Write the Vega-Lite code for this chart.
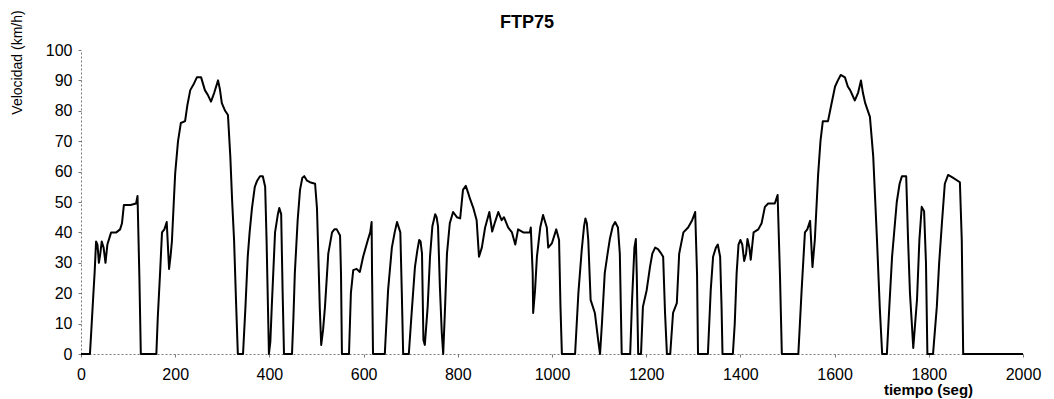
{
  "$schema": "https://vega.github.io/schema/vega-lite/v6.json",
  "width": 942,
  "height": 304,
  "autosize": {"type": "none"},
  "padding": {"left": 81, "top": 50, "right": 31, "bottom": 45},
  "background": "white",
  "title": {"text": "FTP75", "font": "Liberation Sans", "fontSize": 18, "fontWeight": "bold", "color": "black", "anchor": "middle", "dx": -25, "offset": 0, "dy": 22},
  "config": {"view": {"stroke": null}},
  "data": {"values": [
    {"t":0,"v":0},{"t":19,"v":0},{"t":22,"v":8},{"t":26,"v":19},{"t":29,"v":27},{"t":32,"v":37},{"t":35,"v":36},{"t":38,"v":30},{"t":41,"v":33},{"t":44,"v":37},{"t":48,"v":35},{"t":52,"v":30},{"t":56,"v":36},{"t":64,"v":40},{"t":75,"v":40},{"t":83,"v":41},{"t":87,"v":43},{"t":91,"v":49},{"t":105,"v":49},{"t":117,"v":49.5},{"t":120,"v":52},{"t":124,"v":25},{"t":127,"v":0},
    {"t":160,"v":0},{"t":163,"v":12},{"t":168,"v":27},{"t":172,"v":40},{"t":177,"v":41},{"t":182,"v":43.4},{"t":185,"v":34},{"t":187,"v":28},{"t":190,"v":32},{"t":193,"v":37},{"t":197,"v":50},{"t":200,"v":59.5},{"t":206,"v":70},{"t":212,"v":76},{"t":221,"v":76.6},{"t":226,"v":82},{"t":232,"v":86.8},{"t":240,"v":89},{"t":246,"v":91},{"t":255,"v":91},{"t":263,"v":86.8},{"t":270,"v":85},{"t":276,"v":83},{"t":283,"v":86},{"t":291,"v":90},{"t":295,"v":87},{"t":299,"v":82.5},{"t":306,"v":80},{"t":312,"v":78.6},{"t":317,"v":65},{"t":321,"v":50},{"t":325,"v":37.5},{"t":329,"v":18},{"t":333,"v":0},
    {"t":344,"v":0},{"t":349,"v":15},{"t":354,"v":32},{"t":358,"v":40},{"t":363,"v":48},{"t":369,"v":55},{"t":374,"v":57},{"t":380,"v":58.5},{"t":386,"v":58.5},{"t":391,"v":55},{"t":394,"v":37.5},{"t":397,"v":15},{"t":399,"v":0},
    {"t":402,"v":4},{"t":405,"v":15.5},{"t":412,"v":40},{"t":418,"v":46},{"t":421,"v":48},{"t":425,"v":46},{"t":428,"v":21},{"t":431,"v":0},
    {"t":448,"v":0},{"t":451,"v":12},{"t":454,"v":26.6},{"t":460,"v":44},{"t":465,"v":54},{"t":470,"v":58},{"t":474,"v":58.5},{"t":480,"v":57},{"t":486,"v":56.5},{"t":497,"v":56},{"t":501,"v":48},{"t":504,"v":32},{"t":507,"v":15},{"t":510,"v":3},{"t":514,"v":8},{"t":518,"v":15.5},{"t":525,"v":33},{"t":533,"v":40},{"t":538,"v":41},{"t":543,"v":41},{"t":550,"v":39},{"t":552,"v":26.6},{"t":554,"v":0},
    {"t":569,"v":0},{"t":573,"v":20},{"t":578,"v":27.6},{"t":585,"v":28},{"t":592,"v":27},{"t":599,"v":32},{"t":609,"v":37.5},{"t":614,"v":40},{"t":617,"v":43.4},{"t":618,"v":26},{"t":620,"v":0},
    {"t":645,"v":0},{"t":652,"v":21},{"t":660,"v":35},{"t":666,"v":40},{"t":671,"v":43.4},{"t":678,"v":40},{"t":681,"v":21},{"t":684,"v":0},
    {"t":696,"v":0},{"t":702,"v":13.5},{"t":709,"v":28.6},{"t":714,"v":34},{"t":718,"v":37.5},{"t":721,"v":37},{"t":724,"v":33},{"t":727,"v":4.6},{"t":730,"v":3},{"t":736,"v":15.5},{"t":741,"v":32},{"t":746,"v":42},{"t":752,"v":46},{"t":755,"v":45},{"t":758,"v":42},{"t":762,"v":22},{"t":766,"v":7},{"t":769,"v":0},
    {"t":773,"v":15.5},{"t":777,"v":33},{"t":783,"v":43},{"t":790,"v":46.7},{"t":798,"v":45},{"t":805,"v":44.6},{"t":811,"v":54},{"t":817,"v":55.3},{"t":822,"v":53},{"t":826,"v":51},{"t":833,"v":48},{"t":840,"v":44},{"t":845,"v":32},{"t":851,"v":35},{"t":858,"v":41.6},{"t":867,"v":46.7},{"t":873,"v":40.3},{"t":879,"v":43.4},{"t":886,"v":46.7},{"t":893,"v":44},{"t":898,"v":45},{"t":907,"v":41.6},{"t":915,"v":40},{"t":922,"v":36},{"t":928,"v":41},{"t":939,"v":40},{"t":953,"v":40},{"t":955,"v":41.6},{"t":959,"v":26.6},{"t":960,"v":13.5},{"t":964,"v":21},{"t":968,"v":32},{"t":975,"v":41.6},{"t":981,"v":45.7},{"t":989,"v":41.6},{"t":992,"v":35},{"t":1000,"v":36.5},{"t":1009,"v":41},{"t":1015,"v":37.5},{"t":1018,"v":15.5},{"t":1021,"v":0},
    {"t":1049,"v":0},{"t":1056,"v":20},{"t":1063,"v":34},{"t":1068,"v":42},{"t":1071,"v":44.6},{"t":1074,"v":43},{"t":1077,"v":37.5},{"t":1082,"v":17.8},{"t":1091,"v":13.5},{"t":1098,"v":4.6},{"t":1102,"v":0},{"t":1106,"v":10},{"t":1112,"v":26.6},{"t":1118,"v":33},{"t":1123,"v":38},{"t":1129,"v":42},{"t":1134,"v":43.4},{"t":1140,"v":41.6},{"t":1144,"v":33},{"t":1148,"v":0},
    {"t":1166,"v":0},{"t":1170,"v":17.8},{"t":1175,"v":35},{"t":1178,"v":37.8},{"t":1180,"v":26},{"t":1183,"v":0},
    {"t":1189,"v":0},{"t":1193,"v":15.5},{"t":1201,"v":21},{"t":1208,"v":28.6},{"t":1213,"v":33},{"t":1219,"v":35},{"t":1225,"v":34.5},{"t":1232,"v":33},{"t":1236,"v":32},{"t":1240,"v":13.5},{"t":1244,"v":0},
    {"t":1251,"v":0},{"t":1257,"v":13.5},{"t":1265,"v":16.7},{"t":1270,"v":33},{"t":1279,"v":40},{"t":1289,"v":41.6},{"t":1297,"v":43.8},{"t":1304,"v":46.7},{"t":1308,"v":26},{"t":1310,"v":0},
    {"t":1331,"v":0},{"t":1337,"v":21},{"t":1342,"v":32},{"t":1348,"v":35},{"t":1352,"v":36},{"t":1357,"v":32},{"t":1360,"v":15.5},{"t":1362,"v":0},
    {"t":1384,"v":0},{"t":1388,"v":10},{"t":1392,"v":26.6},{"t":1396,"v":36},{"t":1400,"v":37.5},{"t":1404,"v":36},{"t":1408,"v":30.6},{"t":1412,"v":33},{"t":1415,"v":37.8},{"t":1419,"v":35},{"t":1422,"v":31},{"t":1428,"v":40},{"t":1438,"v":41},{"t":1445,"v":43},{"t":1452,"v":48.4},{"t":1459,"v":49.5},{"t":1473,"v":49.5},{"t":1479,"v":52.3},{"t":1484,"v":26},{"t":1488,"v":0},
    {"t":1523,"v":0},{"t":1530,"v":21},{"t":1537,"v":40},{"t":1542,"v":41},{"t":1548,"v":43.8},{"t":1553,"v":28.6},{"t":1558,"v":37.5},{"t":1565,"v":59},{"t":1570,"v":70},{"t":1575,"v":76.6},{"t":1586,"v":76.6},{"t":1593,"v":82},{"t":1601,"v":88},{"t":1607,"v":90},{"t":1613,"v":91.8},{"t":1622,"v":91},{"t":1628,"v":88},{"t":1633,"v":86.8},{"t":1643,"v":83.4},{"t":1650,"v":86},{"t":1656,"v":90},{"t":1660,"v":86},{"t":1665,"v":82.5},{"t":1675,"v":78},{"t":1682,"v":65},{"t":1690,"v":37.5},{"t":1696,"v":15},{"t":1701,"v":0},
    {"t":1711,"v":0},{"t":1716,"v":15},{"t":1722,"v":32},{"t":1732,"v":50},{"t":1738,"v":56},{"t":1743,"v":58.5},{"t":1752,"v":58.5},{"t":1756,"v":37.5},{"t":1760,"v":20},{"t":1764,"v":10},{"t":1767,"v":2},{"t":1775,"v":18},{"t":1780,"v":37.5},{"t":1785,"v":48.4},{"t":1790,"v":47},{"t":1794,"v":30},{"t":1797,"v":0},
    {"t":1809,"v":0},{"t":1817,"v":15.5},{"t":1822,"v":30},{"t":1828,"v":43.4},{"t":1834,"v":56},{"t":1841,"v":58.9},{"t":1851,"v":58},{"t":1866,"v":56.5},{"t":1870,"v":37.5},{"t":1873,"v":0},{"t":2000,"v":0}
  ]},
  "mark": {"type": "line", "color": "black", "strokeWidth": 2, "strokeJoin": "round", "clip": false},
  "encoding": {
    "x": {
      "field": "t", "type": "quantitative",
      "scale": {"domain": [0, 2000], "nice": false, "zero": true},
      "axis": {
        "values": [0, 200, 400, 600, 800, 1000, 1200, 1400, 1600, 1800, 2000],
        "format": "d",
        "grid": false,
        "domainColor": "#777777", "domainDash": [2, 2], "domainWidth": 1,
        "tickColor": "#777777", "tickSize": 3,
        "labelFont": "Liberation Sans", "labelFontSize": 16, "labelColor": "black", "labelPadding": 9,
        "labelFlush": false,
        "title": "tiempo (seg)",
        "titleFont": "Liberation Sans", "titleFontSize": 15, "titleFontWeight": "bold", "titleColor": "black",
        "titleX": 847, "titleY": 40, "titleAlign": "center", "titleBaseline": "alphabetic", "titleAnchor": null
      }
    },
    "y": {
      "field": "v", "type": "quantitative",
      "scale": {"domain": [0, 100], "nice": false},
      "axis": {
        "values": [0, 10, 20, 30, 40, 50, 60, 70, 80, 90, 100],
        "format": "d",
        "grid": false,
        "domainColor": "#777777", "domainDash": [2, 2], "domainWidth": 1,
        "tickColor": "#777777", "tickSize": 3,
        "labelFont": "Liberation Sans", "labelFontSize": 16, "labelColor": "black", "labelPadding": 6,
        "title": "Velocidad (km/h)",
        "titleFont": "Liberation Sans", "titleFontSize": 14, "titleFontWeight": "normal", "titleColor": "black",
        "titleAngle": 270, "titleX": -64, "titleY": 12, "titleAlign": "center", "titleBaseline": "middle"
      }
    }
  }
}
